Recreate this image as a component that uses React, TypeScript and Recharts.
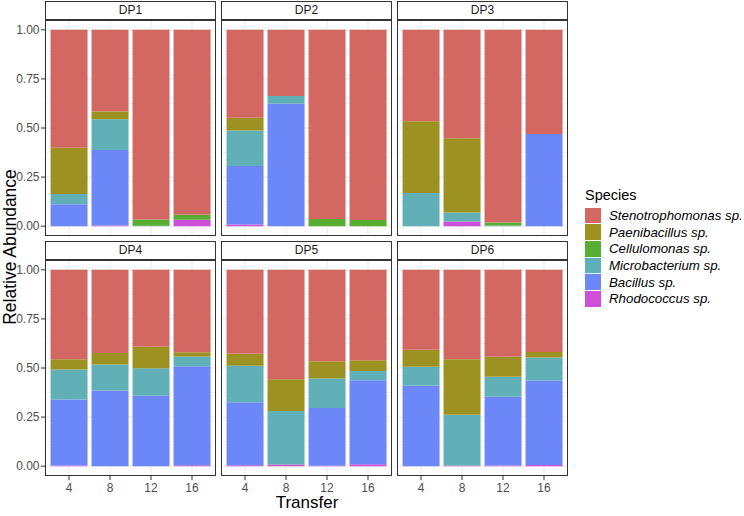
import { BarChart, Bar, XAxis, YAxis, CartesianGrid } from "recharts";

const panels = ["DP1", "DP2", "DP3", "DP4", "DP5", "DP6"];
const transfers = ["4", "8", "12", "16"];

// one inner list per panel, values in transfer order
const stenotrophomonas = [
  [0.6, 0.416, 0.966, 0.942],
  [0.448, 0.337, 0.964, 0.969],
  [0.465, 0.552, 0.981, 0.53],
  [0.455, 0.423, 0.392, 0.42],
  [0.428, 0.557, 0.465, 0.46],
  [0.407, 0.455, 0.443, 0.418],
];
const paenibacillus = [
  [0.236, 0.039, 0, 0],
  [0.065, 0, 0, 0],
  [0.366, 0.378, 0, 0],
  [0.053, 0.059, 0.109, 0.022],
  [0.061, 0.162, 0.089, 0.055],
  [0.086, 0.283, 0.101, 0.029],
];
const cellulomonas = [
  [0, 0, 0.032, 0.025],
  [0, 0, 0.036, 0.031],
  [0, 0, 0.016, 0],
  [0, 0, 0, 0],
  [0, 0, 0, 0],
  [0, 0, 0, 0],
];
const microbacterium = [
  [0.052, 0.157, 0.002, 0],
  [0.18, 0.04, 0, 0],
  [0.169, 0.046, 0.003, 0],
  [0.152, 0.133, 0.14, 0.049],
  [0.186, 0.273, 0.15, 0.048],
  [0.098, 0.258, 0.102, 0.117],
];
const bacillus = [
  [0.112, 0.384, 0, 0],
  [0.299, 0.623, 0, 0],
  [0, 0, 0, 0.47],
  [0.337, 0.385, 0.359, 0.504],
  [0.32, 0, 0.294, 0.427],
  [0.409, 0, 0.351, 0.43],
];
const rhodococcus = [
  [0, 0.004, 0, 0.033],
  [0.008, 0, 0, 0],
  [0, 0.024, 0, 0],
  [0.003, 0, 0, 0.005],
  [0.005, 0.008, 0.002, 0.01],
  [0, 0.004, 0.003, 0.006],
];

const yTicks = [0, 0.25, 0.5, 0.75, 1];
const yMinor = [0.125, 0.375, 0.625, 0.875];

// legend order (top of stack first)
const SPECIES = [
  { key: "Stenotrophomonas", label: "Stenotrophomonas sp.", color: "#D26861", values: stenotrophomonas },
  { key: "Paenibacillus", label: "Paenibacillus sp.", color: "#9D9121", values: paenibacillus },
  { key: "Cellulomonas", label: "Cellulomonas sp.", color: "#57AE33", values: cellulomonas },
  { key: "Microbacterium", label: "Microbacterium sp.", color: "#61B0B7", values: microbacterium },
  { key: "Bacillus", label: "Bacillus sp.", color: "#6C87F8", values: bacillus },
  { key: "Rhodococcus", label: "Rhodococcus sp.", color: "#CF4FD8", values: rhodococcus },
];

const FONT = "'Liberation Sans', Arial, Helvetica, sans-serif";
const COL_X = [45, 221, 397];
const ROW_Y = [20, 260];
const PW = 171;
const PH = 216;
const STRIP_H = 19;
const Y_AXIS_W = 45;
const X_AXIS_H = 30;

function Panel({ index }: { index: number }) {
  const col = index % 3;
  const row = Math.floor(index / 3);
  const left = COL_X[col];
  const top = ROW_Y[row];
  const showY = col === 0;
  const showX = row === 1;

  const data = transfers.map((t, i) => {
    const d: Record<string, string | number> = { transfer: t };
    SPECIES.forEach((s) => {
      d[s.key] = s.values[index][i];
    });
    return d;
  });

  const chartW = PW + (showY ? Y_AXIS_W : 0);
  const chartH = PH + (showX ? X_AXIS_H : 0);

  return (
    <>
      <div
        style={{
          position: "absolute",
          left,
          top: top - STRIP_H,
          width: PW,
          height: STRIP_H,
          boxSizing: "border-box",
          border: "1px solid #333",
          background: "#fff",
          fontFamily: FONT,
          fontSize: 12,
          color: "#1a1a1a",
          textAlign: "center",
          lineHeight: `${STRIP_H - 2}px`,
        }}
      >
        {panels[index]}
      </div>
      <div
        style={{
          position: "absolute",
          left: left - (showY ? Y_AXIS_W : 0),
          top,
        }}
      >
        <BarChart
          width={chartW}
          height={chartH}
          data={data}
          margin={{ top: 0, right: 0, bottom: 0, left: 0 }}
          barCategoryGap="5%"
        >
          <CartesianGrid
            stroke="#ebebeb"
            strokeWidth={0.6}
            vertical={false}
            horizontalValues={yMinor}
          />
          <CartesianGrid stroke="#ebebeb" strokeWidth={1.1} horizontalValues={yTicks} />
          <XAxis
            dataKey="transfer"
            hide={!showX}
            height={X_AXIS_H}
            padding={{ left: 3.5, right: 3.5 }}
            axisLine={false}
            tickLine={{ stroke: "#333" }}
            tickSize={4}
            tickMargin={3}
            tick={{ fill: "#4d4d4d", fontSize: 12, fontFamily: FONT }}
          />
          <YAxis
            type="number"
            hide={!showY}
            width={Y_AXIS_W}
            domain={[-0.05, 1.05]}
            allowDataOverflow
            ticks={yTicks}
            tickFormatter={(v: number) => v.toFixed(2)}
            axisLine={false}
            tickLine={{ stroke: "#333" }}
            tickSize={4}
            tickMargin={1.5}
            tick={{ fill: "#4d4d4d", fontSize: 12, fontFamily: FONT }}
          />
          {[...SPECIES].reverse().map((s) => (
            <Bar
              key={s.key}
              dataKey={s.key}
              stackId="a"
              fill={s.color}
              isAnimationActive={false}
            />
          ))}
        </BarChart>
      </div>
      <div
        style={{
          position: "absolute",
          left,
          top,
          width: PW,
          height: PH,
          boxSizing: "border-box",
          border: "1px solid #333",
          pointerEvents: "none",
        }}
      />
    </>
  );
}

export default function App() {
  return (
    <div
      style={{
        position: "relative",
        width: 744,
        height: 516,
        background: "#fff",
        fontFamily: FONT,
        overflow: "hidden",
      }}
    >
      <style>{`body{margin:0}`}</style>
      {panels.map((p, i) => (
        <Panel key={p} index={i} />
      ))}
      <div
        style={{
          position: "absolute",
          left: 9.5,
          top: 247,
          transform: "translate(-50%, -50%) rotate(-90deg)",
          fontSize: 17.5,
          whiteSpace: "nowrap",
          color: "#000",
        }}
      >
        Relative Abundance
      </div>
      <div
        style={{
          position: "absolute",
          left: 307,
          top: 503,
          transform: "translate(-50%, -50%)",
          fontSize: 17,
          color: "#000",
        }}
      >
        Transfer
      </div>
      <div style={{ position: "absolute", left: 585, top: 187 }}>
        <div style={{ fontSize: 14.5, color: "#000", marginBottom: 4 }}>Species</div>
        {SPECIES.map((s) => (
          <div
            key={s.key}
            style={{ display: "flex", alignItems: "center", height: 16.7 }}
          >
            <div style={{ width: 16, height: 15.7, background: s.color }} />
            <span
              style={{
                marginLeft: 8,
                fontSize: 13.3,
                fontStyle: "italic",
                color: "#000",
                whiteSpace: "nowrap",
              }}
            >
              {s.label}
            </span>
          </div>
        ))}
      </div>
    </div>
  );
}
